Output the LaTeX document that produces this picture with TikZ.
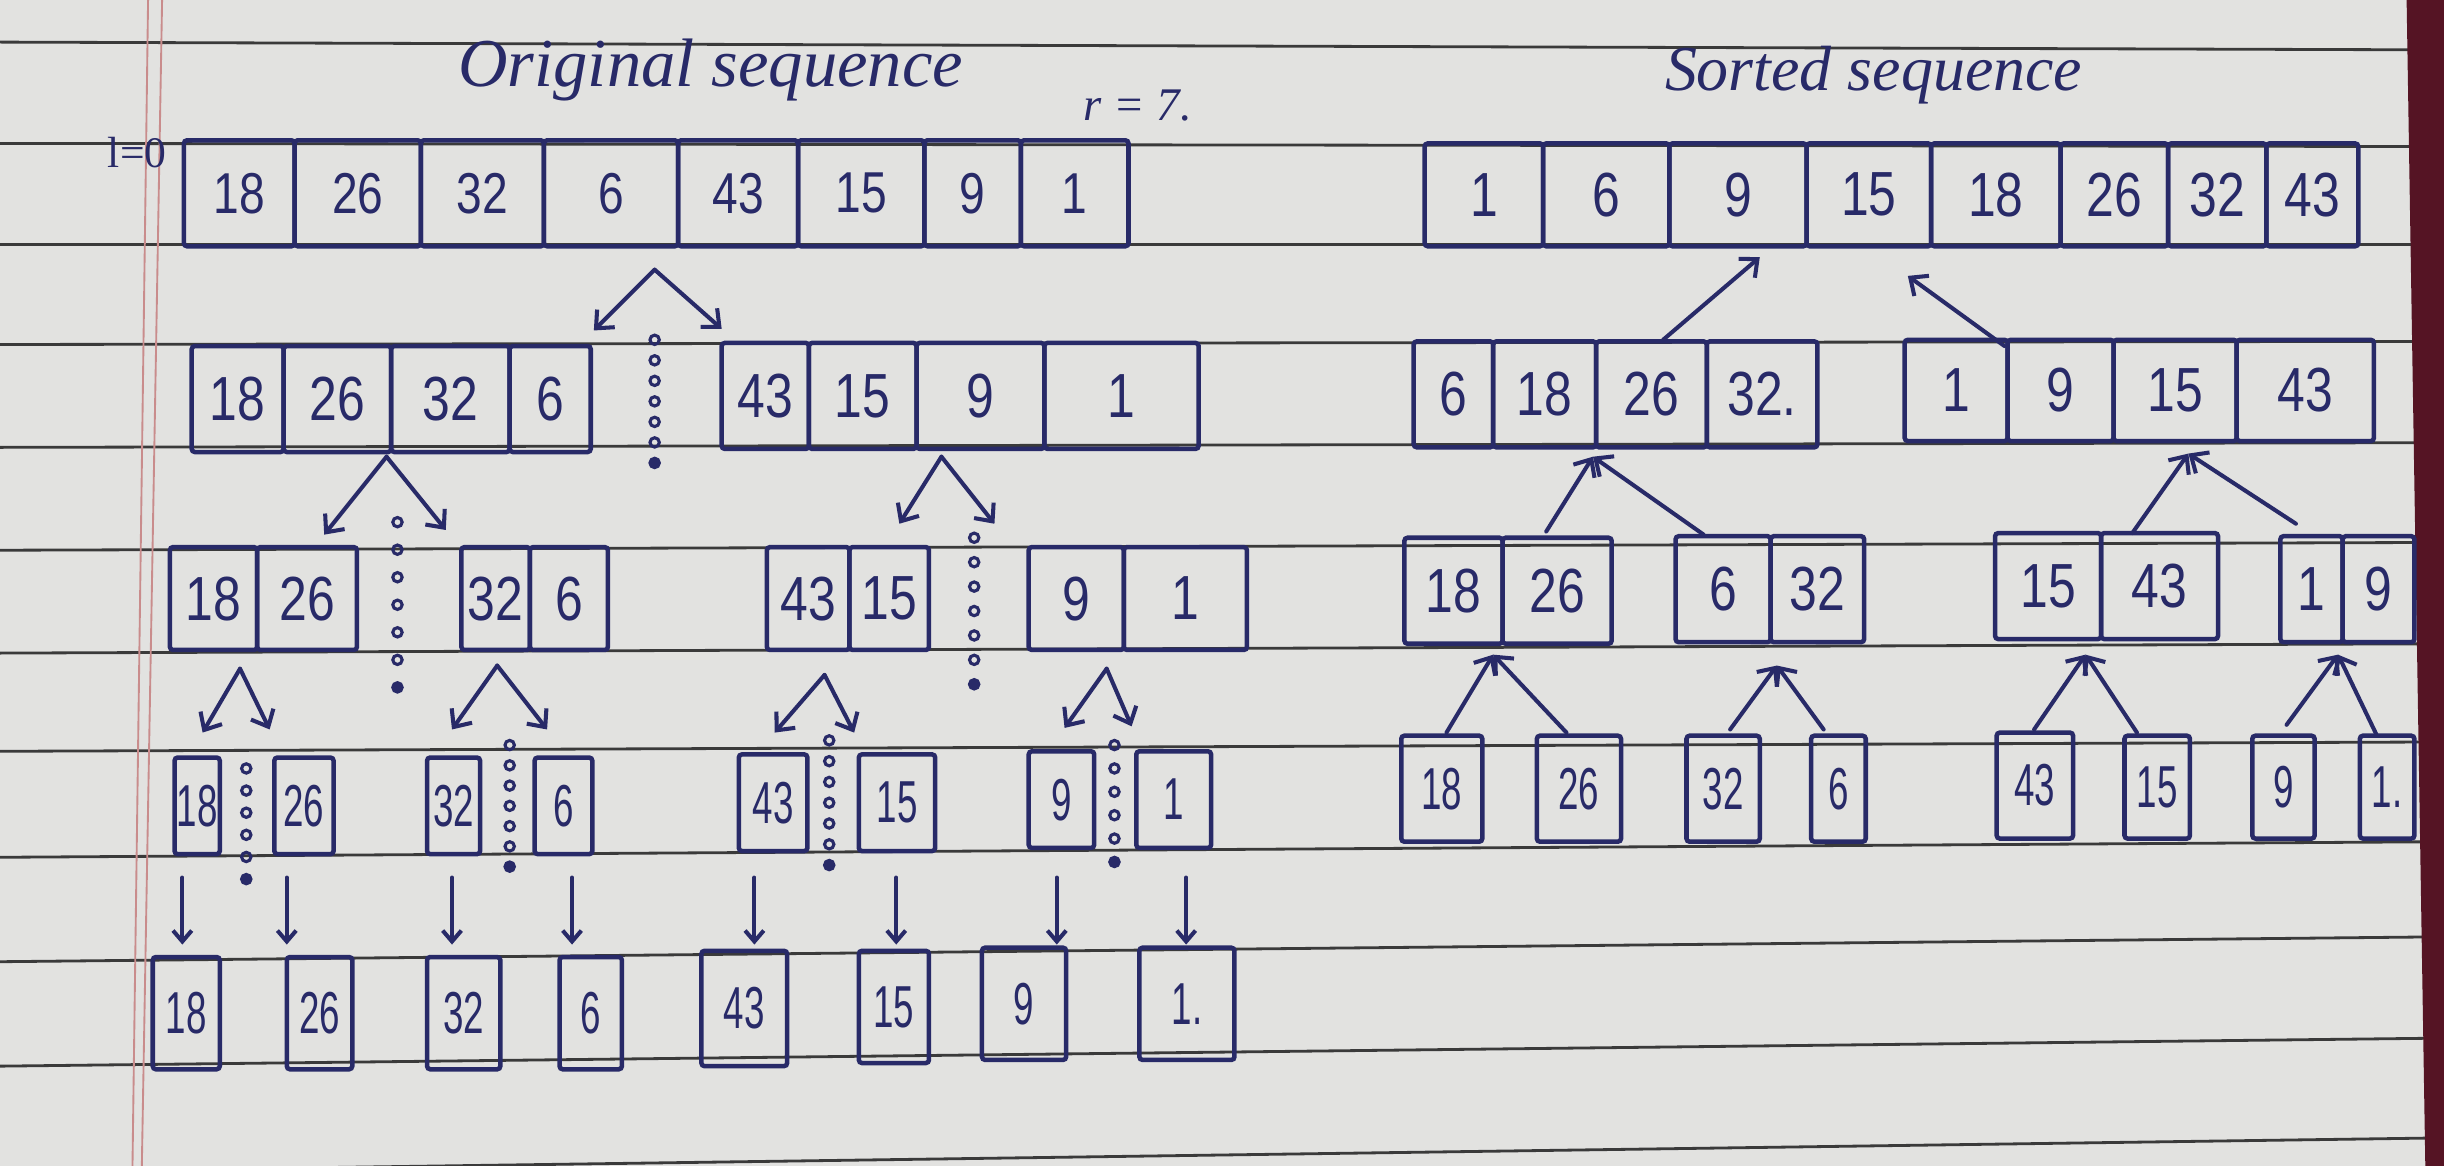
\documentclass[tikz,border=0pt]{standalone}
\usepackage{fontspec}
\setmainfont{Liberation Sans}
\newfontfamily\handfont{Liberation Serif}
\usetikzlibrary{arrows.meta}
\definecolor{paper}{HTML}{E2E2E0}
\definecolor{ink}{HTML}{282A68}
\definecolor{ruleclr}{HTML}{3A3A3A}
\definecolor{marginclr}{HTML}{C98C8C}
\definecolor{edgeclr}{HTML}{551424}
\tikzset{
  cellbox/.style={draw=ink, line width=2.9pt, inner sep=0pt, outer sep=0pt, text=ink, rounded corners=2pt},
  penline/.style={draw=ink, line width=2.6pt, line cap=round, line join=round},
  barb/.style={penline, -{Straight Barb[length=9pt,width=16pt]}},
  smallbarb/.style={penline, -{Straight Barb[length=7pt,width=12pt]}},
  dotmark/.style={draw=ink, line width=2pt},
  ruleline/.style={draw=ruleclr, line width=1.8pt},
  marginline/.style={draw=marginclr, line width=1.2pt},
  handtext/.style={text=ink, inner sep=0pt, font=\fontsize{44}{48}\handfont\itshape},
}
\newcommand\mkcell[8]{%
  \pgfmathsetmacro\cellW{#5-#4}%
  \pgfmathsetmacro\cellH{#7-#6}%
  \node[cellbox, minimum width=\cellW pt, minimum height=\cellH pt, font=\fontsize{#1}{#1}\selectfont] (#3) at ({(#4+#5)/2},{(#6+#7)/2}) {\scalebox{#2}[1]{#8}};}
\newcommand\bc[6]{\mkcell{40}{0.8}{#1}{#2}{#3}{#4}{#5}{#6}}
\newcommand\mc[6]{\mkcell{37}{0.8}{#1}{#2}{#3}{#4}{#5}{#6}}
\newcommand\nc[6]{\mkcell{38}{0.62}{#1}{#2}{#3}{#4}{#5}{#6}}
\newcommand\dotcol[4]{\foreach \k in {0,...,#4}{\draw[dotmark] (#1,{#2+(#3-#2)*\k/#4}) circle[radius=3pt];}\fill[ink] (#1,#3) circle[radius=3.6pt];}
\begin{document}
\begin{tikzpicture}[x=1pt,y=-1pt]
\useasboundingbox (0,0) rectangle (1568,748);
\fill[paper] (0,0) rectangle (1568,748);
% ruled paper
\foreach \a/\b in {27/32, 92/94, 157/157, 221/219, 287/284, 353/348, 419/413, 482/476, 550/540, 617/601, 684/666, 752/730}
  {\draw[ruleline] (0,\a) -- (1568,\b);}
\draw[marginline] (95,0) -- (85,748);
\draw[marginline] (104,0) -- (91,748);
\fill[edgeclr] (1544,0) -- (1568,0) -- (1568,748) -- (1556,748) -- cycle;

% titles
\node[handtext] (torig) at (456,45) {Original sequence};
\node[handtext, font=\fontsize{41}{45}\handfont\itshape] (tsort) at (1202,48) {Sorted sequence};
\node[handtext, font=\fontsize{30}{34}\handfont\itshape] (rlab) at (730,68) {r = 7.};
\node[handtext, font=\fontsize{28}{30}\handfont] (llab) at (88,98) {l=0};

% ---------- original sequence: splitting ----------
\mc{o1a}{118}{189}{90}{158}{18}
\mc{o1b}{189}{270}{90}{158}{26}
\mc{o1c}{270}{349}{90}{158}{32}
\mc{o1d}{349}{435}{90}{158}{6}
\mc{o1e}{435}{512}{90}{158}{43}
\mc{o1f}{512}{593}{90}{158}{15}
\mc{o1g}{593}{655}{90}{158}{9}
\mc{o1h}{655}{724}{90}{158}{1}

\bc{o2a}{123}{182}{222}{290}{18}
\bc{o2b}{182}{251}{222}{290}{26}
\bc{o2c}{251}{327}{222}{290}{32}
\bc{o2d}{327}{379}{222}{290}{6}
\bc{o2e}{463}{519}{220}{288}{43}
\bc{o2f}{519}{588}{220}{288}{15}
\bc{o2g}{588}{670}{220}{288}{9}
\bc{o2h}{670}{769}{220}{288}{1}

\bc{o3a}{109}{165}{351}{417}{18}
\bc{o3b}{165}{229}{351}{417}{26}
\bc{o3c}{296}{340}{351}{417}{32}
\bc{o3d}{340}{390}{351}{417}{6}
\bc{o3e}{492}{545}{351}{417}{43}
\bc{o3f}{545}{596}{351}{417}{15}
\bc{o3g}{660}{721}{351}{417}{9}
\bc{o3h}{721}{800}{351}{417}{1}

\nc{o4a}{112}{141}{486}{548}{18}
\nc{o4b}{176}{214}{486}{548}{26}
\nc{o4c}{274}{308}{486}{548}{32}
\nc{o4d}{343}{380}{486}{548}{6}
\nc{o4e}{474}{518}{484}{546}{43}
\nc{o4f}{551}{600}{484}{546}{15}
\nc{o4g}{660}{702}{482}{544}{9}
\nc{o4h}{729}{777}{482}{544}{1}

\nc{o5a}{98}{141}{614}{686}{18}
\nc{o5b}{184}{226}{614}{686}{26}
\nc{o5c}{274}{321}{614}{686}{32}
\nc{o5d}{359}{399}{614}{686}{6}
\nc{o5e}{450}{505}{610}{684}{43}
\nc{o5f}{551}{596}{610}{682}{15}
\nc{o5g}{630}{684}{608}{680}{9}
\nc{o5h}{731}{792}{608}{680}{1.}

% split arrows
\coordinate (a1) at (420,173); \coordinate (a1l) at (381,212); \coordinate (a1r) at (463,211);
\coordinate (a2) at (248,293); \coordinate (a2l) at (208,343); \coordinate (a2r) at (286,340);
\coordinate (a3) at (604,293); \coordinate (a3l) at (577,336); \coordinate (a3r) at (638,336);
\coordinate (a4) at (154,429); \coordinate (a4l) at (130,470); \coordinate (a4r) at (173,468);
\coordinate (a5) at (319,427); \coordinate (a5l) at (290,468); \coordinate (a5r) at (351,468);
\coordinate (a6) at (529,433); \coordinate (a6l) at (497,470); \coordinate (a6r) at (548,470);
\coordinate (a7) at (710,429); \coordinate (a7l) at (683,467); \coordinate (a7r) at (726,466);
\foreach \i in {1,...,7}{
  \draw[barb] (a\i) -- (a\i l);
  \draw[barb] (a\i) -- (a\i r);
}
% dotted separators
\dotcol{420}{218}{297}{6}
\dotcol{255}{335}{441}{6}
\dotcol{625}{345}{439}{6}
\dotcol{158}{493}{564}{5}
\dotcol{327}{478}{556}{6}
\dotcol{532}{475}{555}{6}
\dotcol{715}{478}{553}{5}

% down arrows
\foreach \x [count=\i] in {117,184,290,367,484,575,678,761}{
  \coordinate (dt\i) at (\x,563);
  \coordinate (db\i) at (\x,606);
  \draw[smallbarb] (dt\i) -- (db\i);
}

% ---------- sorted sequence: merging ----------
\bc{s1a}{914}{990}{92}{158}{1}
\bc{s1b}{990}{1071}{92}{158}{6}
\bc{s1c}{1071}{1159}{92}{158}{9}
\bc{s1d}{1159}{1239}{92}{158}{15}
\bc{s1e}{1239}{1322}{92}{158}{18}
\bc{s1f}{1322}{1391}{92}{158}{26}
\bc{s1g}{1391}{1454}{92}{158}{32}
\bc{s1h}{1454}{1513}{92}{158}{43}

\bc{s2a}{907}{958}{219}{287}{6}
\bc{s2b}{958}{1024}{219}{287}{18}
\bc{s2c}{1024}{1095}{219}{287}{26}
\bc{s2d}{1095}{1166}{219}{287}{32.}
\bc{s2e}{1222}{1288}{218}{283}{1}
\bc{s2f}{1288}{1356}{218}{283}{9}
\bc{s2g}{1356}{1435}{218}{283}{15}
\bc{s2h}{1435}{1523}{218}{283}{43}

\bc{s3a}{901}{964}{345}{413}{18}
\bc{s3b}{964}{1034}{345}{413}{26}
\bc{s3c}{1075}{1136}{344}{412}{6}
\bc{s3d}{1136}{1196}{344}{412}{32}
\bc{s3e}{1280}{1348}{342}{410}{15}
\bc{s3f}{1348}{1423}{342}{410}{43}
\bc{s3g}{1463}{1503}{344}{412}{1}
\bc{s3h}{1503}{1549}{344}{412}{9}

\nc{s4a}{899}{951}{472}{540}{18}
\nc{s4b}{986}{1040}{472}{540}{26}
\nc{s4c}{1082}{1129}{472}{540}{32}
\nc{s4d}{1162}{1197}{472}{540}{6}
\nc{s4e}{1281}{1330}{470}{538}{43}
\nc{s4f}{1363}{1405}{472}{538}{15}
\nc{s4g}{1445}{1485}{472}{538}{9}
\nc{s4h}{1514}{1549}{472}{538}{1.}

% merge arrows
\coordinate (b1f) at (1067,218); \coordinate (b1t) at (1129,165);
\coordinate (b2f) at (1286,222); \coordinate (b2t) at (1224,177);
\draw[barb] (b1f) -- (b1t);
\draw[barb] (b2f) -- (b2t);
\coordinate (m3) at (1022,293); \coordinate (m3l) at (992,341);  \coordinate (m3r) at (1093,343);
\coordinate (m4) at (1404,291); \coordinate (m4l) at (1368,342); \coordinate (m4r) at (1473,336);
\coordinate (m5) at (958,420);  \coordinate (m5l) at (928,470);  \coordinate (m5r) at (1005,470);
\coordinate (m6) at (1140,427); \coordinate (m6l) at (1110,468); \coordinate (m6r) at (1170,468);
\coordinate (m7) at (1338,420); \coordinate (m7l) at (1305,468); \coordinate (m7r) at (1371,470);
\coordinate (m8) at (1500,420); \coordinate (m8l) at (1467,465); \coordinate (m8r) at (1525,472);
\foreach \i in {3,...,8}{
  \draw[barb] (m\i l) -- (m\i);
  \draw[barb] (m\i r) -- (m\i);
}
\end{tikzpicture}
\end{document}
